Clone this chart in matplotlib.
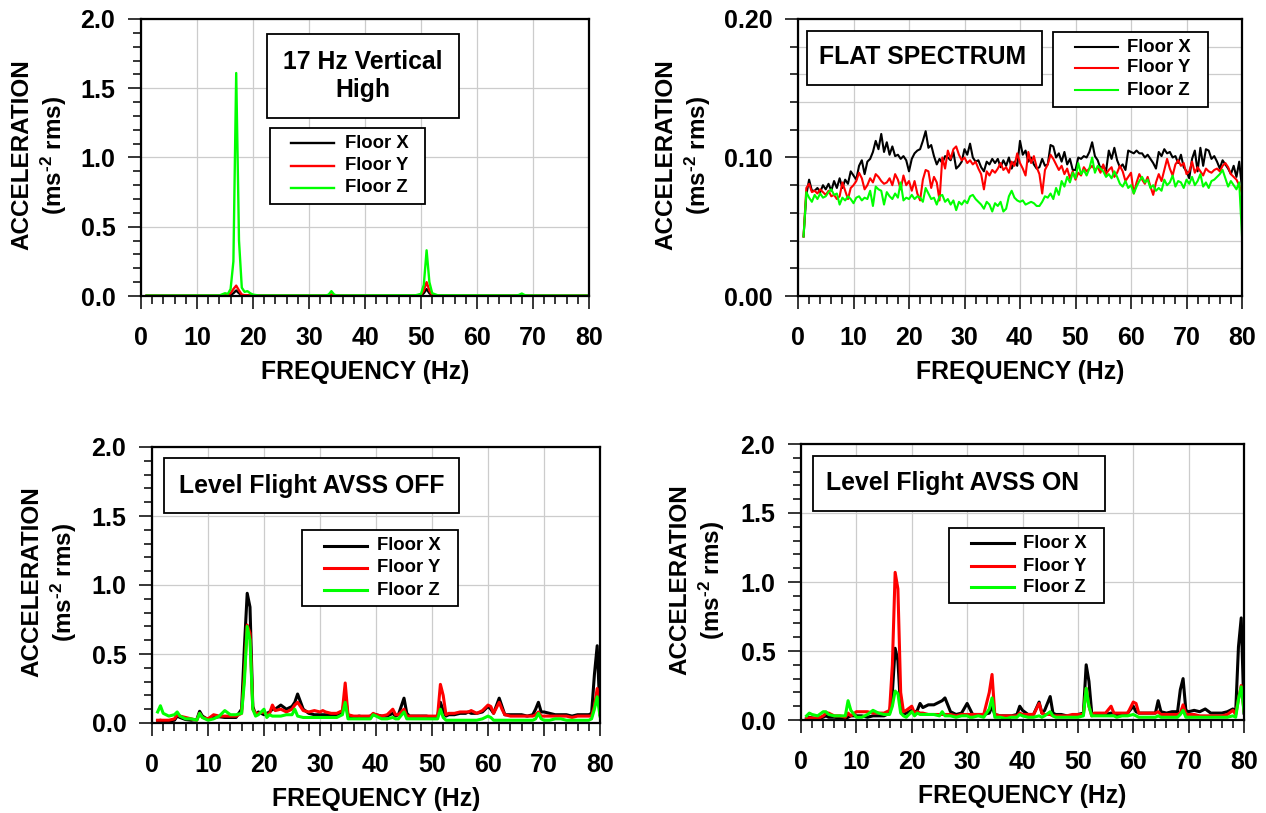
import numpy as np
import matplotlib
matplotlib.use('Agg')
import matplotlib.pyplot as plt
from matplotlib.patches import Rectangle
from matplotlib.lines import Line2D
from matplotlib.ticker import MultipleLocator, FormatStrFormatter

plt.rcParams['font.family'] = ['Liberation Sans', 'DejaVu Sans']
plt.rcParams['font.weight'] = 'bold'
plt.rcParams['mathtext.fontset'] = 'custom'
plt.rcParams['mathtext.rm'] = 'Liberation Sans:bold'
plt.rcParams['mathtext.bf'] = 'Liberation Sans:bold'
plt.rcParams['mathtext.default'] = 'rm'

series_labels = ['Floor X', 'Floor Y', 'Floor Z']
series_colors = ['#000000', '#ff0000', '#00ff00']

# ---- panel 1: 17 Hz vertical high ----
freq_17hz = [1, 14, 15, 15.5, 16, 16.5, 17, 17.5, 18, 18.5, 19, 19.5, 20, 21,
             33, 33.5, 34, 34.5, 35, 49, 50, 50.5, 51, 51.5, 52, 53,
             67, 67.5, 68, 68.5, 69, 80]
x_17hz = [0.002, 0.002, 0.003, 0.004, 0.008, 0.02, 0.04, 0.02, 0.005, 0.003, 0.003, 0.002, 0.002, 0.002,
          0.002, 0.002, 0.005, 0.002, 0.002, 0.002, 0.005, 0.02, 0.05, 0.02, 0.004, 0.002,
          0.002, 0.002, 0.003, 0.002, 0.002, 0.002]
y_17hz = [0.002, 0.002, 0.005, 0.008, 0.02, 0.05, 0.075, 0.04, 0.01, 0.006, 0.006, 0.004, 0.003, 0.002,
          0.002, 0.004, 0.012, 0.004, 0.002, 0.002, 0.01, 0.04, 0.1, 0.04, 0.008, 0.002,
          0.002, 0.003, 0.006, 0.003, 0.002, 0.002]
z_17hz = [0.003, 0.004, 0.02, 0.015, 0.05, 0.25, 1.61, 0.4, 0.06, 0.03, 0.035, 0.02, 0.01, 0.004,
          0.004, 0.01, 0.035, 0.01, 0.004, 0.005, 0.015, 0.08, 0.33, 0.1, 0.02, 0.005,
          0.004, 0.008, 0.018, 0.007, 0.004, 0.003]

# ---- panel 2: flat spectrum (0.5 Hz bins, 1..80 Hz) ----
freq_flat = np.arange(1.0, 80.01, 0.5)
x_flat = [0.043, 0.073, 0.084, 0.076, 0.076, 0.078, 0.075, 0.080, 0.077, 0.081,
          0.076, 0.083, 0.078, 0.085, 0.078, 0.084, 0.081, 0.090, 0.087, 0.084,
          0.094, 0.098, 0.088, 0.097, 0.099, 0.104, 0.112, 0.106, 0.117, 0.104,
          0.111, 0.102, 0.108, 0.101, 0.102, 0.099, 0.101, 0.098, 0.090, 0.099,
          0.103, 0.105, 0.106, 0.112, 0.119, 0.107, 0.109, 0.101, 0.095, 0.099,
          0.096, 0.101, 0.100, 0.098, 0.104, 0.092, 0.094, 0.097, 0.106, 0.102,
          0.110, 0.100, 0.097, 0.098, 0.093, 0.090, 0.097, 0.095, 0.099, 0.096,
          0.099, 0.093, 0.098, 0.094, 0.100, 0.092, 0.097, 0.094, 0.112, 0.102,
          0.105, 0.097, 0.100, 0.095, 0.092, 0.093, 0.099, 0.094, 0.095, 0.109,
          0.108, 0.100, 0.103, 0.097, 0.104, 0.095, 0.099, 0.091, 0.091, 0.100,
          0.099, 0.101, 0.100, 0.104, 0.111, 0.101, 0.098, 0.092, 0.094, 0.090,
          0.105, 0.099, 0.107, 0.098, 0.093, 0.095, 0.091, 0.105, 0.104, 0.103,
          0.105, 0.103, 0.103, 0.100, 0.102, 0.099, 0.096, 0.092, 0.104, 0.101,
          0.106, 0.103, 0.104, 0.100, 0.101, 0.096, 0.102, 0.093, 0.090, 0.085,
          0.099, 0.105, 0.090, 0.107, 0.094, 0.106, 0.105, 0.099, 0.101, 0.097,
          0.092, 0.098, 0.095, 0.092, 0.088, 0.094, 0.086, 0.097, 0.078]
y_flat = [0.043, 0.078, 0.081, 0.075, 0.076, 0.074, 0.077, 0.075, 0.073, 0.076,
          0.072, 0.073, 0.070, 0.072, 0.082, 0.076, 0.070, 0.078, 0.080, 0.083,
          0.089, 0.085, 0.077, 0.080, 0.085, 0.082, 0.088, 0.086, 0.083, 0.081,
          0.082, 0.085, 0.080, 0.088, 0.084, 0.077, 0.087, 0.080, 0.083, 0.076,
          0.083, 0.074, 0.069, 0.084, 0.091, 0.090, 0.078, 0.086, 0.082, 0.069,
          0.100, 0.092, 0.105, 0.099, 0.106, 0.108, 0.102, 0.098, 0.100, 0.096,
          0.098, 0.095, 0.097, 0.092, 0.088, 0.077, 0.090, 0.087, 0.091, 0.089,
          0.092, 0.096, 0.091, 0.093, 0.089, 0.097, 0.094, 0.103, 0.096, 0.092,
          0.087, 0.104, 0.096, 0.101, 0.093, 0.088, 0.074, 0.091, 0.095, 0.102,
          0.099, 0.095, 0.091, 0.094, 0.088, 0.092, 0.085, 0.090, 0.084, 0.089,
          0.087, 0.093, 0.090, 0.092, 0.094, 0.091, 0.093, 0.089, 0.095, 0.088,
          0.091, 0.093, 0.086, 0.089, 0.094, 0.090, 0.083, 0.086, 0.089, 0.074,
          0.082, 0.088, 0.084, 0.081, 0.086, 0.079, 0.073, 0.082, 0.088, 0.083,
          0.091, 0.099, 0.092, 0.087, 0.095, 0.098, 0.094, 0.096, 0.088, 0.090,
          0.097, 0.089, 0.093, 0.090, 0.087, 0.092, 0.090, 0.089, 0.091, 0.092,
          0.090, 0.094, 0.096, 0.093, 0.088, 0.086, 0.084, 0.080, 0.074]
z_flat = [0.043, 0.075, 0.071, 0.068, 0.073, 0.070, 0.074, 0.071, 0.072, 0.075,
          0.077, 0.073, 0.074, 0.066, 0.071, 0.069, 0.072, 0.070, 0.067, 0.071,
          0.072, 0.069, 0.071, 0.070, 0.076, 0.065, 0.079, 0.077, 0.076, 0.066,
          0.075, 0.072, 0.070, 0.074, 0.071, 0.082, 0.069, 0.071, 0.070, 0.073,
          0.070, 0.072, 0.071, 0.068, 0.078, 0.074, 0.070, 0.071, 0.066, 0.072,
          0.073, 0.068, 0.070, 0.066, 0.069, 0.062, 0.068, 0.066, 0.069, 0.067,
          0.072, 0.073, 0.070, 0.068, 0.066, 0.063, 0.068, 0.066, 0.061, 0.067,
          0.065, 0.068, 0.061, 0.063, 0.072, 0.076, 0.071, 0.069, 0.068, 0.069,
          0.066, 0.067, 0.068, 0.067, 0.065, 0.065, 0.068, 0.072, 0.071, 0.074,
          0.070, 0.078, 0.073, 0.083, 0.079, 0.086, 0.082, 0.089, 0.085, 0.096,
          0.088, 0.091, 0.087, 0.092, 0.100, 0.089, 0.094, 0.092, 0.090, 0.086,
          0.088, 0.085, 0.090, 0.086, 0.081, 0.079, 0.083, 0.078, 0.080, 0.074,
          0.079, 0.083, 0.086, 0.082, 0.084, 0.078, 0.080, 0.076, 0.078, 0.076,
          0.084, 0.080, 0.082, 0.087, 0.079, 0.083, 0.082, 0.078, 0.084, 0.081,
          0.086, 0.080, 0.083, 0.088, 0.079, 0.082, 0.078, 0.083, 0.084, 0.086,
          0.088, 0.091, 0.085, 0.079, 0.083, 0.080, 0.077, 0.082, 0.043]

# ---- panels 3 and 4: level flight, shared frequency points ----
freq_flight = [1, 1.5, 2, 3, 4, 4.5, 5, 6, 7, 8,
               8.5, 9, 10, 11, 12, 13, 14, 15, 16, 16.5,
               17, 17.5, 18, 18.5, 19, 20, 20.5, 21, 21.5, 22,
               23, 24, 25, 25.5, 26, 27, 28, 29, 30, 30.5,
               31, 32, 33, 34, 34.5, 35, 36, 37, 38, 39,
               39.5, 40, 41, 42, 43, 43.5, 44, 45, 45.5, 46,
               47, 48, 49, 50, 51, 51.5, 52, 52.5, 53, 54,
               55, 56, 56.5, 57, 58, 59, 60, 60.5, 61, 62,
               62.5, 63, 64, 64.5, 65, 66, 67, 68, 68.5, 69,
               69.5, 70, 71, 72, 73, 74, 75, 76, 77, 78,
               78.5, 79, 79.5, 80]

x_off = [0.015, 0.02, 0.015, 0.015, 0.02, 0.05, 0.04, 0.025, 0.02, 0.025,
         0.085, 0.05, 0.025, 0.04, 0.045, 0.04, 0.04, 0.04, 0.1, 0.55,
         0.94, 0.84, 0.12, 0.06, 0.08, 0.06, 0.07, 0.08, 0.1, 0.1,
         0.13, 0.1, 0.12, 0.15, 0.21, 0.1, 0.07, 0.06, 0.06, 0.06,
         0.06, 0.06, 0.06, 0.08, 0.2, 0.05, 0.04, 0.05, 0.04, 0.05,
         0.06, 0.06, 0.05, 0.05, 0.07, 0.05, 0.06, 0.18, 0.07, 0.05,
         0.05, 0.05, 0.05, 0.04, 0.05, 0.15, 0.09, 0.05, 0.06, 0.06,
         0.07, 0.07, 0.08, 0.07, 0.07, 0.08, 0.12, 0.1, 0.07, 0.18,
         0.12, 0.06, 0.06, 0.06, 0.06, 0.06, 0.05, 0.06, 0.1, 0.15,
         0.08, 0.08, 0.07, 0.06, 0.06, 0.06, 0.05, 0.06, 0.06, 0.06,
         0.07, 0.35, 0.56, 0.06]
y_off = [0.02, 0.02, 0.02, 0.02, 0.03, 0.06, 0.05, 0.04, 0.03, 0.02,
         0.07, 0.04, 0.03, 0.06, 0.05, 0.05, 0.05, 0.05, 0.07, 0.35,
         0.71, 0.65, 0.1, 0.07, 0.07, 0.08, 0.06, 0.07, 0.13, 0.09,
         0.1, 0.08, 0.1, 0.13, 0.15, 0.09, 0.08, 0.09, 0.08, 0.09,
         0.08, 0.07, 0.07, 0.09, 0.29, 0.06, 0.05, 0.05, 0.05, 0.05,
         0.07, 0.06, 0.05, 0.06, 0.1, 0.06, 0.06, 0.1, 0.05, 0.05,
         0.05, 0.05, 0.05, 0.05, 0.05, 0.28, 0.2, 0.06, 0.07, 0.07,
         0.08, 0.08, 0.08, 0.09, 0.07, 0.09, 0.13, 0.12, 0.07, 0.15,
         0.1, 0.06, 0.05, 0.05, 0.05, 0.05, 0.05, 0.05, 0.06, 0.08,
         0.05, 0.05, 0.05, 0.05, 0.05, 0.05, 0.04, 0.05, 0.05, 0.05,
         0.05, 0.12, 0.25, 0.1]
z_off = [0.08, 0.125, 0.07, 0.05, 0.06, 0.08, 0.05, 0.03, 0.03, 0.02,
         0.07, 0.04, 0.02, 0.03, 0.05, 0.09, 0.06, 0.06, 0.07, 0.3,
         0.7, 0.6, 0.1, 0.05, 0.06, 0.1, 0.04, 0.06, 0.05, 0.05,
         0.05, 0.06, 0.06, 0.1, 0.05, 0.04, 0.04, 0.04, 0.04, 0.04,
         0.04, 0.04, 0.04, 0.06, 0.15, 0.03, 0.03, 0.03, 0.03, 0.03,
         0.06, 0.05, 0.03, 0.03, 0.04, 0.03, 0.03, 0.08, 0.03, 0.03,
         0.03, 0.03, 0.03, 0.03, 0.03, 0.1, 0.04, 0.02, 0.02, 0.02,
         0.02, 0.02, 0.02, 0.02, 0.02, 0.03, 0.05, 0.04, 0.02, 0.02,
         0.02, 0.02, 0.02, 0.02, 0.02, 0.02, 0.02, 0.02, 0.03, 0.07,
         0.03, 0.02, 0.02, 0.03, 0.03, 0.02, 0.02, 0.02, 0.02, 0.02,
         0.03, 0.1, 0.19, 0.05]

x_on = [0.01, 0.02, 0.015, 0.01, 0.02, 0.03, 0.02, 0.02, 0.015, 0.01,
        0.02, 0.03, 0.03, 0.03, 0.02, 0.03, 0.03, 0.03, 0.05, 0.2,
        0.52, 0.43, 0.08, 0.04, 0.05, 0.07, 0.05, 0.07, 0.12, 0.09,
        0.11, 0.11, 0.13, 0.14, 0.16, 0.06, 0.04, 0.05, 0.12, 0.08,
        0.04, 0.04, 0.04, 0.05, 0.1, 0.04, 0.03, 0.03, 0.03, 0.04,
        0.1, 0.07, 0.04, 0.04, 0.13, 0.05, 0.07, 0.17, 0.05, 0.04,
        0.04, 0.03, 0.03, 0.04, 0.05, 0.4, 0.28, 0.05, 0.04, 0.04,
        0.04, 0.05, 0.05, 0.04, 0.04, 0.05, 0.1, 0.06, 0.05, 0.05,
        0.05, 0.05, 0.05, 0.14, 0.06, 0.05, 0.06, 0.06, 0.22, 0.3,
        0.07, 0.06, 0.07, 0.06, 0.08, 0.05, 0.05, 0.05, 0.06, 0.08,
        0.06, 0.53, 0.74, 0.05]
y_on = [0.01, 0.015, 0.015, 0.01, 0.03, 0.05, 0.05, 0.03, 0.03, 0.02,
        0.05, 0.03, 0.06, 0.06, 0.06, 0.05, 0.05, 0.05, 0.07, 0.4,
        1.07, 0.95, 0.2, 0.06, 0.07, 0.1, 0.05, 0.06, 0.05, 0.05,
        0.04, 0.04, 0.04, 0.04, 0.04, 0.04, 0.03, 0.04, 0.04, 0.04,
        0.04, 0.04, 0.04, 0.2, 0.33, 0.04, 0.03, 0.03, 0.03, 0.03,
        0.05, 0.04, 0.04, 0.04, 0.12, 0.05, 0.04, 0.04, 0.03, 0.03,
        0.03, 0.03, 0.04, 0.04, 0.04, 0.23, 0.1, 0.03, 0.05, 0.05,
        0.05, 0.1, 0.05, 0.05, 0.05, 0.05, 0.13, 0.12, 0.05, 0.05,
        0.05, 0.05, 0.05, 0.06, 0.04, 0.04, 0.04, 0.04, 0.05, 0.11,
        0.04, 0.04, 0.04, 0.03, 0.03, 0.03, 0.03, 0.03, 0.04, 0.07,
        0.04, 0.15, 0.25, 0.07]
z_on = [0.03, 0.05, 0.04, 0.03, 0.06, 0.06, 0.04, 0.03, 0.03, 0.03,
        0.14, 0.07, 0.02, 0.02, 0.04, 0.07, 0.05, 0.04, 0.04, 0.1,
        0.21, 0.19, 0.05, 0.03, 0.02, 0.06, 0.03, 0.05, 0.04, 0.04,
        0.04, 0.04, 0.03, 0.06, 0.03, 0.03, 0.02, 0.03, 0.03, 0.02,
        0.02, 0.03, 0.02, 0.08, 0.16, 0.02, 0.02, 0.01, 0.02, 0.02,
        0.04, 0.03, 0.02, 0.02, 0.03, 0.02, 0.03, 0.06, 0.03, 0.02,
        0.02, 0.02, 0.02, 0.02, 0.03, 0.23, 0.1, 0.03, 0.03, 0.03,
        0.03, 0.03, 0.03, 0.02, 0.03, 0.03, 0.04, 0.03, 0.02, 0.02,
        0.02, 0.02, 0.02, 0.03, 0.02, 0.02, 0.02, 0.02, 0.04, 0.07,
        0.02, 0.02, 0.02, 0.02, 0.02, 0.02, 0.02, 0.02, 0.02, 0.03,
        0.02, 0.15, 0.24, 0.06]

W, H = 1266, 813
fig = plt.figure(figsize=(W / 100, H / 100), dpi=100)


def fx(x):
    return x / W


def fy(y):
    return 1 - y / H


def add_panel(l, t, r, b, ymax, ymajor, yminor, fmt, minor_grid):
    ax = fig.add_axes([fx(l), fy(b), (r - l) / W, (b - t) / H])
    ax.set_xlim(0, 80)
    ax.set_ylim(0, ymax)
    ax.xaxis.set_major_locator(MultipleLocator(10))
    ax.xaxis.set_minor_locator(MultipleLocator(2))
    ax.yaxis.set_major_locator(MultipleLocator(ymajor))
    ax.yaxis.set_minor_locator(MultipleLocator(yminor))
    ax.yaxis.set_major_formatter(FormatStrFormatter(fmt))
    ax.tick_params(which='both', direction='out', top=False, right=False,
                   width=1.1, color='black')
    ax.tick_params(which='major', length=9.5, labelsize=18)
    ax.tick_params(which='minor', length=6)
    ax.tick_params(axis='x', which='major', pad=12)
    ax.tick_params(axis='y', which='major', pad=9)
    ax.grid(which='major', color='#cccccc', lw=0.9)
    if minor_grid:
        ax.grid(axis='y', which='minor', color='#cccccc', lw=0.9)
    ax.set_axisbelow(True)
    for s in ax.spines.values():
        s.set_linewidth(1.6)
    # axis title under the frequency ticks
    fig.text(fx((l + r) / 2), fy(b + 76), 'FREQUENCY (Hz)', fontsize=17.8,
             ha='center', va='center')
    return ax


def ylabel(xc, yc):
    fig.text(fx(xc), fy(yc), 'ACCELERATION\n(ms$^{\u20102}$ rms)', fontsize=17.5,
             rotation=90, ha='center', va='center', multialignment='center',
             linespacing=1.22)


def title_box(x0, y0, x1, y1, text, xc, yc):
    fig.add_artist(Rectangle((fx(x0), fy(y1)), (x1 - x0) / W, (y1 - y0) / H,
                             transform=fig.transFigure, facecolor='white',
                             edgecolor='black', lw=1.3, zorder=5))
    fig.text(fx(xc), fy(yc), text, fontsize=17.8, ha='center', va='center',
             linespacing=1.2, zorder=7)


def key(x0, y0, x1, y1, lx0, lx1, rows, tx, lw):
    fig.add_artist(Rectangle((fx(x0), fy(y1)), (x1 - x0) / W, (y1 - y0) / H,
                             transform=fig.transFigure, facecolor='white',
                             edgecolor='black', lw=1.3, zorder=5))
    for yy, c, lab in zip(rows, series_colors, series_labels):
        fig.add_artist(Line2D([fx(lx0), fx(lx1)], [fy(yy), fy(yy)],
                              transform=fig.transFigure, color=c, lw=lw, zorder=6))
        fig.text(fx(tx), fy(yy), lab, fontsize=13.3, ha='left', va='center', zorder=7)


# panel 1
ax1 = add_panel(141, 19, 589, 296, 2.0, 0.5, 0.1, '%.1f', False)
for v, c in zip([x_17hz, y_17hz, z_17hz], series_colors):
    ax1.plot(freq_17hz, v, color=c, lw=1.7)
ylabel(40, 155)
title_box(267, 34, 459, 118, '17 Hz Vertical\nHigh', 363, 76)
key(270, 128, 425, 204, 291, 334, [143, 166, 188], 345, 1.7)

# panel 2
ax2 = add_panel(798, 19, 1242, 296, 0.20, 0.10, 0.02, '%.2f', True)
for v, c in zip([x_flat, y_flat, z_flat], series_colors):
    ax2.plot(freq_flat, v, color=c, lw=1.5)
ylabel(684, 155)
title_box(807, 31, 1042, 85, 'FLAT SPECTRUM', 923, 57)
key(1053, 32, 1208, 107, 1075, 1118, [47, 68, 90], 1127, 1.5)

# panel 3
ax3 = add_panel(152, 447, 600, 723, 2.0, 0.5, 0.1, '%.1f', False)
for v, c in zip([x_off, y_off, z_off], series_colors):
    ax3.plot(freq_flight, v, color=c, lw=2.2)
ylabel(50, 582)
title_box(164, 458, 459, 513, 'Level Flight AVSS OFF', 312, 486)
key(302, 530, 458, 606, 324, 367, [546, 568, 590], 377, 2.2)

# panel 4
ax4 = add_panel(801, 444, 1244, 720, 2.0, 0.5, 0.1, '%.1f', False)
for v, c in zip([x_on, y_on, z_on], series_colors):
    ax4.plot(freq_flight, v, color=c, lw=2.2)
ylabel(698, 580)
title_box(813, 456, 1105, 511, 'Level Flight AVSS ON', 953, 483)
key(949, 528, 1104, 603, 971, 1014, [543, 566, 587], 1023, 2.2)

fig.savefig('out.png', dpi=100)
